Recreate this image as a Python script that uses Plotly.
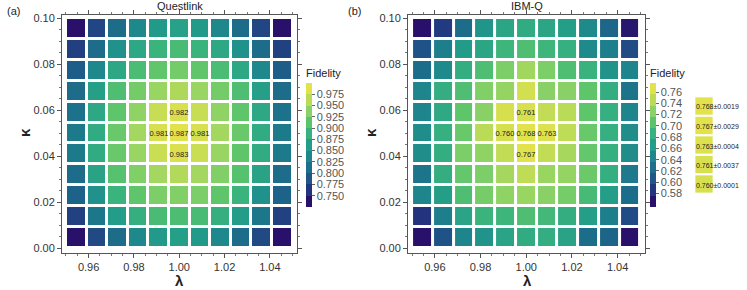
import numpy as np
import plotly.graph_objects as go
from plotly.colors import sample_colorscale

# ---------------- data ----------------
lam_range = [0.95, 1.05]
kappa_range = [0.0, 0.10]
x_tickvals = [0.96, 0.98, 1.00, 1.02, 1.04]
x_ticktext = ["0.96", "0.98", "1.00", "1.02", "1.04"]
y_tickvals = [0.00, 0.02, 0.04, 0.06, 0.08, 0.10]
y_ticktext = ["0.00", "0.02", "0.04", "0.06", "0.08", "0.10"]

# rows listed from top (kappa = 0.10) to bottom (kappa = 0.00)
fid_questlink = [
    [0.735, 0.776, 0.810, 0.840, 0.860, 0.868, 0.860, 0.840, 0.810, 0.776, 0.735],
    [0.770, 0.810, 0.850, 0.876, 0.890, 0.900, 0.890, 0.876, 0.850, 0.810, 0.772],
    [0.795, 0.840, 0.876, 0.902, 0.916, 0.925, 0.916, 0.902, 0.876, 0.840, 0.795],
    [0.810, 0.866, 0.905, 0.926, 0.945, 0.955, 0.945, 0.926, 0.905, 0.866, 0.810],
    [0.817, 0.876, 0.915, 0.940, 0.970, 0.982, 0.970, 0.940, 0.915, 0.876, 0.817],
    [0.825, 0.880, 0.920, 0.950, 0.981, 0.987, 0.981, 0.950, 0.920, 0.880, 0.825],
    [0.825, 0.880, 0.920, 0.945, 0.972, 0.983, 0.972, 0.945, 0.915, 0.880, 0.825],
    [0.810, 0.870, 0.910, 0.932, 0.950, 0.958, 0.950, 0.932, 0.910, 0.870, 0.810],
    [0.800, 0.850, 0.890, 0.915, 0.930, 0.933, 0.930, 0.915, 0.890, 0.850, 0.800],
    [0.772, 0.822, 0.862, 0.885, 0.900, 0.903, 0.900, 0.885, 0.862, 0.822, 0.772],
    [0.735, 0.778, 0.810, 0.840, 0.860, 0.866, 0.860, 0.840, 0.810, 0.778, 0.735],
]
fid_ibmq = [
    [0.565, 0.590, 0.625, 0.660, 0.675, 0.680, 0.675, 0.668, 0.650, 0.620, 0.570],
    [0.605, 0.640, 0.665, 0.675, 0.690, 0.700, 0.690, 0.685, 0.650, 0.640, 0.600],
    [0.625, 0.650, 0.683, 0.700, 0.720, 0.735, 0.720, 0.700, 0.687, 0.658, 0.645],
    [0.645, 0.683, 0.700, 0.722, 0.730, 0.758, 0.725, 0.725, 0.708, 0.683, 0.630],
    [0.645, 0.678, 0.708, 0.725, 0.760, 0.761, 0.750, 0.745, 0.708, 0.685, 0.645],
    [0.652, 0.685, 0.712, 0.745, 0.760, 0.768, 0.763, 0.748, 0.712, 0.685, 0.652],
    [0.652, 0.683, 0.720, 0.728, 0.750, 0.767, 0.750, 0.738, 0.710, 0.685, 0.652],
    [0.632, 0.683, 0.710, 0.720, 0.737, 0.748, 0.732, 0.730, 0.713, 0.684, 0.635],
    [0.645, 0.668, 0.700, 0.717, 0.728, 0.732, 0.725, 0.717, 0.695, 0.668, 0.625],
    [0.585, 0.640, 0.673, 0.688, 0.690, 0.700, 0.693, 0.683, 0.668, 0.640, 0.600],
    [0.565, 0.605, 0.645, 0.658, 0.673, 0.680, 0.682, 0.672, 0.625, 0.618, 0.560],
]
# labelled cells: (row from top, column)
labelled_cells = [(4, 5), (5, 4), (5, 5), (5, 6), (6, 5)]

ql_cbar_range = [0.725, 1.000]
ql_cbar_ticks = [0.750, 0.775, 0.800, 0.825, 0.850, 0.875, 0.900, 0.925, 0.950, 0.975]
ibm_cbar_range = [0.556, 0.776]
ibm_cbar_ticks = [0.58, 0.60, 0.62, 0.64, 0.66, 0.68, 0.70, 0.72, 0.74, 0.76]

legend_vals = [0.768, 0.767, 0.763, 0.761, 0.760]
legend_errs = [0.0019, 0.0029, 0.0004, 0.0037, 0.0001]

# ---------------- styling ----------------
band_colors = ["#29106b", "#23357e", "#1f5587", "#1c6e8a", "#1e868c", "#239c89",
               "#37b17f", "#5ac46c", "#8bd266", "#bbdb57", "#e2e24c"]
nb = len(band_colors)
cont_scale = [[0.0, band_colors[0]]] + \
    [[(i + 0.5) / nb, c] for i, c in enumerate(band_colors)] + [[1.0, band_colors[-1]]]
disc_scale = []
for i, c in enumerate(band_colors):
    disc_scale.append([i / nb, c])
    disc_scale.append([(i + 1) / nb, c])

FONT = "Liberation Sans, Arial, sans-serif"
W, H = 747, 290

fig = go.Figure()

def add_panel(mat, xa, ya, crange, cticks, fmt, cb_x):
    z = np.array(mat)[::-1]
    ny, nx = z.shape
    dx = (lam_range[1] - lam_range[0]) / nx
    dy = (kappa_range[1] - kappa_range[0]) / ny
    text = np.full(z.shape, "", dtype=object)
    for r, c in labelled_cells:
        text[ny - 1 - r, c] = f"{mat[r][c]:.3f}"
    fig.add_trace(go.Heatmap(
        z=z, x0=lam_range[0] + dx / 2, dx=dx, y0=kappa_range[0] + dy / 2, dy=dy,
        colorscale=cont_scale, zmin=crange[0], zmax=crange[1], showscale=False,
        xgap=3, ygap=3, text=text, texttemplate="%{text}",
        textfont=dict(size=7.5, color="#222", family=FONT),
        xaxis=xa, yaxis=ya, hoverinfo="skip"))
    fig.add_trace(go.Scatter(
        x=[lam_range[0]], y=[kappa_range[0]], mode="markers",
        marker=dict(size=1, opacity=0, color=[crange[0]], colorscale=disc_scale,
                    cmin=crange[0], cmax=crange[1], showscale=True,
                    colorbar=dict(
                        x=cb_x, xanchor="left", y=1 - 136.5 / H, yanchor="middle",
                        len=141, lenmode="pixels", thickness=6, thicknessmode="pixels",
                        outlinewidth=0, xpad=0, ypad=0,
                        ticks="outside", ticklen=3, tickcolor="#666",
                        tickvals=cticks, ticktext=[fmt.format(v) for v in cticks],
                        tickfont=dict(size=11, color="#555", family=FONT),
                        title=dict(text="Fidelity", side="top",
                                   font=dict(size=11, color="#222", family=FONT)))),
        xaxis=xa, yaxis=ya, showlegend=False, hoverinfo="skip"))

add_panel(fid_questlink, "x", "y", ql_cbar_range, ql_cbar_ticks, "{:.3f}", 306 / W)
add_panel(fid_ibmq, "x2", "y2", ibm_cbar_range, ibm_cbar_ticks, "{:.2f}", 650 / W)

xr = [lam_range[0] - 4 / 2275, lam_range[1] + 4.5 / 2275]
yr = [kappa_range[0] - 5 / 2300, kappa_range[1] + 3 / 2300]

axis_common = dict(showline=True, linecolor="#555", linewidth=1, mirror="ticks",
                   ticks="outside", ticklen=4, tickcolor="#555", showgrid=False,
                   zeroline=False, automargin=False,
                   tickfont=dict(size=11, color="#333", family=FONT),
                   minor=dict(ticks="outside", ticklen=2, tickcolor="#777",
                              showgrid=False, dtick=0.005))
xdom_a = [62 / W, 297 / W]
xdom_b = [408 / W, 645 / W]
ydom = [(H - 253) / H, (H - 15) / H]

for xname, yname, xdom, ya_name, xa_name in [
        ("xaxis", "yaxis", xdom_a, "y", "x"), ("xaxis2", "yaxis2", xdom_b, "y2", "x2")]:
    fig.layout[xname] = dict(domain=xdom, anchor=ya_name, range=xr,
                             tickvals=x_tickvals, ticktext=x_ticktext, **axis_common)
    fig.layout[yname] = dict(domain=ydom, anchor=xa_name, range=yr,
                             tickvals=y_tickvals, ticktext=y_ticktext, **axis_common)

def ann(text, xpx, ypx, size=11, xanchor="center", bold=False, angle=0):
    return dict(text=f"<b>{text}</b>" if bold else text, x=xpx / W, y=1 - ypx / H,
                xref="paper", yref="paper", xanchor=xanchor, yanchor="middle",
                textangle=angle, showarrow=False,
                font=dict(size=size, color="#222", family=FONT))

annotations = [
    ann("Questlink", W * sum(xdom_a) / 2, 6.5),
    ann("IBM-Q", W * sum(xdom_b) / 2, 6.5),
    ann("(a)", 5, 11, xanchor="left"),
    ann("(b)", 346, 11, xanchor="left"),
    ann("λ", 179, 280, size=15, bold=True),
    ann("λ", 527, 280, size=15, bold=True),
    ann("κ", 25, 133, size=15, bold=True, angle=-90),
    ann("κ", 371, 133, size=15, bold=True, angle=-90),
]

shapes = []
leg_cols = sample_colorscale(cont_scale,
                             [(v - ibm_cbar_range[0]) / (ibm_cbar_range[1] - ibm_cbar_range[0])
                              for v in legend_vals])
for i, (v, e, col) in enumerate(zip(legend_vals, legend_errs, leg_cols)):
    top = 97 + i * 19.5
    shapes.append(dict(type="rect", xref="paper", yref="paper",
                       x0=695 / W, x1=713 / W, y0=1 - (top + 18) / H, y1=1 - top / H,
                       fillcolor=col, line=dict(width=1, color="rgba(255,255,255,0.7)")))
    annotations.append(dict(text=f"{v:.3f}±{e:.4f}", x=694 / W, y=1 - (top + 10) / H,
                            xref="paper", yref="paper", xanchor="left", yanchor="middle",
                            showarrow=False, font=dict(size=7, color="#222", family=FONT)))

fig.update_layout(width=W, height=H,
                  margin=dict(l=0, r=0, t=0, b=0, pad=0, autoexpand=False),
                  paper_bgcolor="white", plot_bgcolor="white",
                  annotations=annotations, shapes=shapes, showlegend=False,
                  font=dict(family=FONT))

fig.write_html("out.html", config={"displayModeBar": False},
               post_script="document.body.style.margin='0';document.body.style.overflow='hidden';")
